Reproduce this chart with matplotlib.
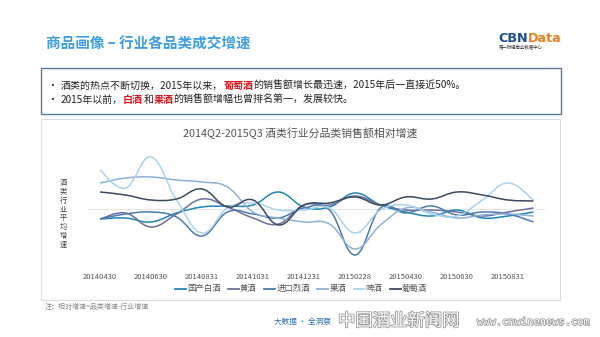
import numpy as np
import matplotlib
matplotlib.use("Agg")
import matplotlib.pyplot as plt
from matplotlib.path import Path
from matplotlib.patches import PathPatch, Rectangle
import matplotlib.patheffects as pe

plt.rcParams['font.family'] = ['Noto Sans CJK SC', 'DejaVu Sans']

W, H = 600, 337

# data: relative growth (category growth - industry growth)
dates = ["20140430", "20140531", "20140630", "20140731", "20140831", "20140930",
         "20141031", "20141130", "20141231", "20150131", "20150228", "20150331",
         "20150430", "20150531", "20150630", "20150731", "20150831", "20150930"]
series_names = ["国产白酒", "黄酒", "进口烈酒", "果酒", "啤酒", "葡萄酒"]
baijiu = [-10, -9, -13, -4, 2, 3, 4, 17, 2, 2, 16, 4, -3, -7, -1, -9, -7, -3]
huangjiu = [-10, -4, -18, -5, 10, 2, -9, -15, 4, 4, 13, 4, -1, -1, -3, -7, -3, 1]
liejiu = [-10, -5, -3, -8, -27, -3, -5, -9, 1, -1, -46, 1, -4, 3, -6, -3, -5, -13]
guojiu = [26, 31, 32, 29, 27, 22, -3, -9, -13, -15, -40, -16, 1, -3, -9, -6, -5, -7]
pijiu = [39, 21, 52, 9, -24, 1, 6, -1, -1, 1, -24, -1, 4, -5, -7, 9, 26, 9]
putaojiu = [17, 14, 9, 10, 20, 2, 9, -16, 4, 6, 12, 4, 12, 10, 17, 14, 9, 8]
values = [baijiu, huangjiu, liejiu, guojiu, pijiu, putaojiu]
colors = ["#1c86b6", "#6c6f9c", "#4a7cb0", "#8fb1d8", "#a9d2ee", "#3b4a5e"]
tick_idx = list(range(0, 18, 2))

fig = plt.figure(figsize=(W / 100, H / 100), dpi=100)
fig.patch.set_facecolor("white")


def fx(px):
    return px / W


def fy(py):
    return 1 - py / H


# header
fig.text(fx(46), fy(44), "商品画像 – 行业各品类成交增速", fontsize=10.5,
         fontweight="bold", color="#3d9ee2", va="center", ha="left")
t1 = fig.text(fx(498), fy(38), "CBN", fontsize=9.2, fontweight="bold",
              color="#1d4f8f", va="center", ha="left", family="DejaVu Sans")
renderer = fig.canvas.get_renderer()
bb = t1.get_window_extent(renderer)
fig.text(fx(498) + bb.width / W, fy(38), "Data", fontsize=9.2, fontweight="bold",
         color="#e8821e", va="center", ha="left", family="DejaVu Sans")
fig.text(fx(499), fy(48), "第一财经商业数据中心", fontsize=3.2, color="#333333",
         va="center", ha="left")

# text box
fig.patches.append(Rectangle((fx(41), fy(114)), fx(561) - fx(41), fy(68) - fy(114),
                             transform=fig.transFigure, fill=False,
                             edgecolor="#5a7893", lw=1.0))


def rich(x, y, parts, size=7.2):
    for s, c, w in parts:
        t = fig.text(x, y, s, fontsize=size, color=c, fontweight=w,
                     va="center", ha="left")
        x += t.get_window_extent(renderer).width / W


fig.text(fx(47), fy(86), "•", fontsize=7, color="#222222", va="center")
fig.text(fx(47), fy(100), "•", fontsize=7, color="#222222", va="center")
rich(fx(61), fy(86), [("酒类的热点不断切换，2015年以来，", "#222222", "normal"),
                      ("葡萄酒", "#e0161d", "bold"),
                      ("的销售额增长最迅速，2015年后一直接近50%。", "#222222", "normal")])
rich(fx(61), fy(100), [("2015年以前，", "#222222", "normal"),
                       ("白酒", "#e0161d", "bold"),
                       ("和", "#222222", "normal"),
                       ("果酒", "#e0161d", "bold"),
                       ("的销售额增幅也曾排名第一，发展较快。", "#222222", "normal")])

# chart box
fig.patches.append(Rectangle((fx(41), fy(300)), fx(560) - fx(41), fy(119) - fy(300),
                             transform=fig.transFigure, fill=False,
                             edgecolor="#dddddd", lw=0.8))
fig.text(fx(300), fy(133), "2014Q2-2015Q3 酒类行业分品类销售额相对增速",
         fontsize=7.8, color="#555555", ha="center", va="center")
fig.text(fx(63), fy(214), "\n".join("酒类行业平均增速"), fontsize=5.2,
         color="#444444", ha="center", va="center", linespacing=1.15)

# plot axes: point i sits at 100 + 25.5*i px
L, R, T, B = 88, 545, 145, 265
ax = fig.add_axes([fx(L), fy(B), fx(R) - fx(L), fy(T) - fy(B)])
ax.set_xlim((L - 100) / 25.5, (R - 100) / 25.5)
ax.set_ylim(-56, 64)
ax.axhline(0, color="#e4e4e4", lw=0.7, zorder=0)


def smooth_path(xs, ys, k=0.2):
    pts = np.column_stack([xs, ys]).astype(float)
    ext = np.vstack([pts[0], pts, pts[-1]])
    verts = [pts[0]]
    codes = [Path.MOVETO]
    for i in range(len(pts) - 1):
        p0, p1, p2, p3 = ext[i], ext[i + 1], ext[i + 2], ext[i + 3]
        verts += [p1 + (p2 - p0) * k, p2 - (p3 - p1) * k, p2]
        codes += [Path.CURVE4] * 3
    return Path(verts, codes)


x = np.arange(len(dates))
for name, vals, c in zip(series_names, values, colors):
    ax.add_patch(PathPatch(smooth_path(x, vals), fill=False, edgecolor=c, lw=1.1))
    ax.plot([], [], color=c, lw=1.3, label=name)

ax.set_xticks(tick_idx)
ax.set_xticklabels([dates[i] for i in tick_idx], fontsize=5.5, color="#555555")
ax.tick_params(axis="x", length=0, pad=6)
ax.set_yticks([])
for s in ax.spines.values():
    s.set_visible(False)
ax.patch.set_alpha(0)

fig.legend(loc="center", bbox_to_anchor=(fx(301), fy(289)), ncol=6, frameon=False,
           fontsize=6, handlelength=1.3, handletextpad=0.15, columnspacing=0.9,
           labelcolor="#555555")

# footer
fig.text(fx(45), fy(307), "注：相对增速=品类增速-行业增速", fontsize=5, color="#888888",
         va="center")
fig.text(fx(274), fy(322), "大数据 · 全洞察", fontsize=5.5, color="#2a6ab0", va="center")
fig.text(fx(338), fy(321), "中国酒业新闻网", fontsize=12.5, color="white", va="center",
         path_effects=[pe.withStroke(linewidth=1.2, foreground="#999999")])
fig.text(fx(477), fy(322), "www.cnwinenews.com", fontsize=7.5, color="white",
         va="center", family="DejaVu Sans Mono",
         path_effects=[pe.withStroke(linewidth=1.1, foreground="#999999")])

fig.savefig("out.png", dpi=100)
